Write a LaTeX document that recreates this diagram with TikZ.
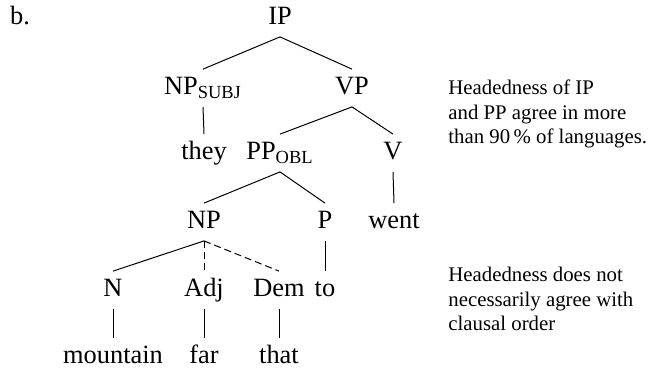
\documentclass[tikz,border=0pt]{standalone}
\usepackage{fontspec}
\setmainfont{Liberation Serif}
\usetikzlibrary{positioning}

\begin{document}
\begin{tikzpicture}[x=0.5pt,y=-0.5pt,
  cat/.style={font=\fontsize{13.2}{16}\selectfont,inner sep=3pt,text height=9.5pt,text depth=3pt},
  note/.style={font=\fontsize{10.4}{12.1}\selectfont,align=left,anchor=west,inner sep=0pt},
  branch/.style={line width=0.5pt},
  optional/.style={branch,dash pattern=on 3.5pt off 2pt}]
  \useasboundingbox (0,0) rectangle (648,372);

  % Example label
  \node[cat] (lbl) at (20,18) {b.};

  % Clause level
  \node[cat] (IP) at (280,18) {IP};
  \node[cat] (NPsubj) at (203,88) {NP\textsubscript{SUBJ}};
  \node[cat] (VP) at (352,88) {VP};
  \node[cat] (they) at (204,153) {they};
  \node[cat] (PPobl) at (280,153) {PP\textsubscript{OBL}};
  \node[cat] (V) at (393,153) {V};

  % Adpositional phrase
  \node[cat] (NP) at (204,222) {NP};
  \node[cat] (P) at (325,222) {P};
  \node[cat] (went) at (394,222) {went};
  \node[cat] (N) at (113,290) {N};
  \node[cat] (Adj) at (204,290) {Adj};
  \node[cat] (Dem) at (279,290) {Dem};
  \node[cat] (to) at (325,290) {to};
  \node[cat] (mountain) at (113,357) {mountain};
  \node[cat] (far) at (204,357) {far};
  \node[cat] (that) at (279,357) {that};

  % Branches
  \draw[branch] (IP.south) -- (NPsubj.north);
  \draw[branch] (IP.south) -- (VP.north);
  \draw[branch] (NPsubj.south) -- (they.north);
  \draw[branch] (VP.south) -- (PPobl.north);
  \draw[branch] (VP.south) -- (V.north);
  \draw[branch] (V.south) -- (went.north);
  \draw[branch] (PPobl.south) -- (NP.north);
  \draw[branch] (PPobl.south) -- (P.north);
  \draw[branch] (P.south) -- (to.north);
  \draw[branch] (NP.south) -- (N.north);
  \draw[optional] (NP.south) -- (Adj.north);
  \draw[optional] (NP.south) -- (Dem.north);
  \draw[branch] (N.south) -- (mountain.north);
  \draw[branch] (Adj.south) -- (far.north);
  \draw[branch] (Dem.south) -- (that.north);

  % Notes
  \node[note] (noteIP) at (448,114) {Headedness of IP\\and PP agree in more\\than 90\,\% of languages.};
  \node[note] (noteNP) at (448,299) {Headedness does not\\necessarily agree with\\clausal order};
\end{tikzpicture}
\end{document}
